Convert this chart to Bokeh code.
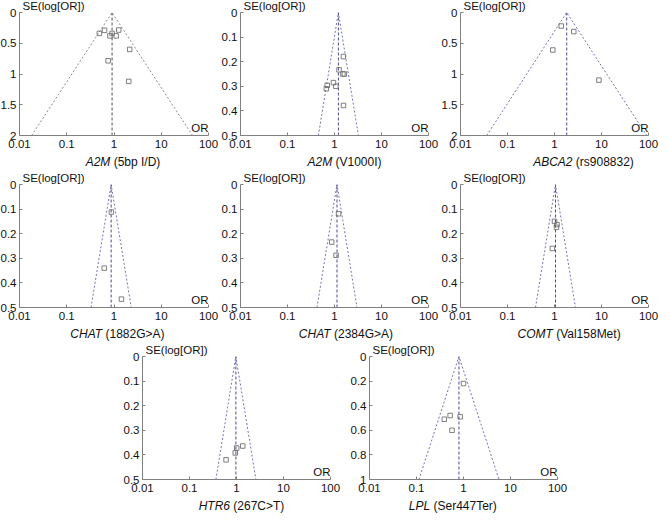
import math
from bokeh.plotting import figure
from bokeh.models import Range1d, FixedTicker, CustomJSTickFormatter, Label, Spacer
from bokeh.layouts import row, column
from bokeh.embed import file_html
from bokeh.resources import INLINE

FONT = "Liberation Sans"
FS = "11.5px"
CAP_FS = 12

# ---------------- data ----------------
x_ticks = [0.01, 0.1, 1, 10, 100]

genes = ["A2M", "A2M", "ABCA2", "CHAT", "CHAT", "COMT", "HTR6", "LPL"]
variants = ["(5bp I/D)", "(V1000I)", "(rs908832)", "(1882G>A)", "(2384G>A)",
            "(Val158Met)", "(267C>T)", "(Ser447Ter)"]
se_max = [2, 0.5, 2, 0.5, 0.5, 0.5, 0.5, 1]
y_ticks = [[0, 0.5, 1, 1.5, 2],
           [0, 0.1, 0.2, 0.3, 0.4, 0.5],
           [0, 0.5, 1, 1.5, 2],
           [0, 0.1, 0.2, 0.3, 0.4, 0.5],
           [0, 0.1, 0.2, 0.3, 0.4, 0.5],
           [0, 0.1, 0.2, 0.3, 0.4, 0.5],
           [0, 0.1, 0.2, 0.3, 0.4, 0.5],
           [0, 0.2, 0.4, 0.6, 0.8, 1]]
pooled_or = [0.91, 1.21, 1.82, 0.87, 1.13, 1.05, 0.97, 0.80]

or_a2m_5bp = [0.49, 0.63, 0.82, 0.91, 1.11, 1.26, 2.15, 0.75, 2.05]
se_a2m_5bp = [0.34, 0.29, 0.38, 0.34, 0.38, 0.285, 0.60, 0.785, 1.12]

or_a2m_v1000i = [1.55, 1.25, 1.51, 1.62, 0.95, 1.07, 0.70, 0.67, 1.55]
se_a2m_v1000i = [0.179, 0.233, 0.25, 0.25, 0.285, 0.30, 0.296, 0.31, 0.378]

or_abca2 = [1.39, 2.57, 0.92, 8.8]
se_abca2 = [0.22, 0.31, 0.61, 1.1]

or_chat_1882 = [0.88, 0.62, 1.44]
se_chat_1882 = [0.112, 0.34, 0.466]

or_chat_2384 = [1.22, 0.87, 1.08]
se_chat_2384 = [0.119, 0.234, 0.288]

or_comt = [1.0, 1.13, 1.10, 0.90]
se_comt = [0.15, 0.163, 0.174, 0.26]

or_htr6 = [1.36, 1.01, 0.94, 0.60]
se_htr6 = [0.364, 0.372, 0.392, 0.42]

or_lpl = [1.0, 0.52, 0.39, 0.85, 0.57]
se_lpl = [0.22, 0.48, 0.51, 0.49, 0.60]

study_or = [or_a2m_5bp, or_a2m_v1000i, or_abca2, or_chat_1882, or_chat_2384,
            or_comt, or_htr6, or_lpl]
study_se = [se_a2m_5bp, se_a2m_v1000i, se_abca2, se_chat_1882, se_chat_2384,
            se_comt, se_htr6, se_lpl]

# ---------------- layout / style ----------------
CAPTION_SHIFT = [9, 10, 29, 3, 11, 15, 5, -10]   # px, caption centre vs frame centre

ARIAL = {"A": 667, "B": 667, "C": 722, "D": 722, "G": 778, "H": 722, "I": 278,
         "L": 556, "M": 833, "O": 778, "P": 667, "R": 722, "S": 667, "T": 611,
         "V": 667, "a": 556, "b": 556, "e": 556, "l": 222, "p": 556, "r": 333,
         "s": 500, "t": 278, "(": 333, ")": 333, "/": 278, ">": 584, " ": 278}


def text_w(s, px=CAP_FS):
    return sum(ARIAL.get(c, 556) for c in s) * px / 1000.0


FUNNEL_COLOR = ["#8a8a96"] + ["#7373b8"] * 7
VLINE_COLOR = ["#50505a"] + ["#4a4a90"] * 7

FW = 190
BOTTOM = 18


def make_panel(i, left, right, main_h, cap_h):
    ymax = se_max[i]
    p = figure(width=left + FW + right, height=main_h,
               x_axis_type="log", x_range=Range1d(0.01, 100),
               y_range=Range1d(ymax, 0), title="SE(log[OR])",
               output_backend="svg", toolbar_location=None,
               min_border_left=left, min_border_right=right,
               min_border_top=0, min_border_bottom=BOTTOM)
    p.title.align = "left"
    p.title.offset = 3
    p.title.standoff = 1
    p.title.text_font = FONT
    p.title.text_font_size = FS
    p.title.text_font_style = "normal"
    p.title.text_color = "#111111"
    p.outline_line_color = None
    p.xgrid.visible = False
    p.ygrid.visible = False
    p.background_fill_color = "white"
    p.border_fill_color = "white"

    for ax in (p.xaxis[0], p.yaxis[0]):
        ax.axis_line_color = "#808080"
        ax.major_tick_line_color = "#808080"
        ax.major_tick_in = 3
        ax.major_tick_out = 0
        ax.minor_tick_line_color = None
        ax.major_label_text_font = FONT
        ax.major_label_text_font_size = FS
        ax.major_label_text_color = "#111111"
    p.xaxis[0].major_label_standoff = 4
    p.yaxis[0].major_label_standoff = 3
    p.xaxis[0].ticker = FixedTicker(ticks=x_ticks, minor_ticks=[])
    p.xaxis[0].formatter = CustomJSTickFormatter(code="return String(tick);")
    p.yaxis[0].ticker = FixedTicker(ticks=y_ticks[i], minor_ticks=[])
    p.yaxis[0].formatter = CustomJSTickFormatter(
        code="return String(parseFloat(tick.toFixed(3)));")

    # funnel (95% limits around the pooled estimate)
    pooled = pooled_or[i]
    lo = pooled * math.exp(-1.96 * ymax)
    hi = pooled * math.exp(1.96 * ymax)
    p.line([lo, pooled, hi], [ymax, 0, ymax], line_color=FUNNEL_COLOR[i],
           line_width=1, line_dash="2 2")
    p.line([pooled, pooled], [0, ymax], line_color=VLINE_COLOR[i],
           line_width=1, line_dash="3 2")

    p.scatter(study_or[i], study_se[i], marker="square", size=4.5,
              fill_color=None, line_color="#707070", line_width=0.9)

    p.add_layout(Label(x=100, y=ymax, x_offset=0, y_offset=2, text="OR",
                       text_align="right", text_baseline="bottom",
                       text_font=FONT, text_font_size=FS,
                       text_color="#111111"))

    # caption strip (gene name italic + variant)
    c = figure(width=left + FW + right, height=cap_h,
               x_axis_type="log", x_range=Range1d(0.01, 100),
               y_range=Range1d(0, 1), x_axis_location=None, y_axis_location=None,
               output_backend="svg", toolbar_location=None,
               min_border_left=left, min_border_right=right,
               min_border_top=0, min_border_bottom=0)
    c.outline_line_color = None
    c.xgrid.visible = False
    c.ygrid.visible = False
    g = genes[i]
    v = variants[i]
    total = text_w(g) + text_w(" ") + text_w(v)
    split = CAPTION_SHIFT[i] - total / 2 + text_w(g)
    cap_y = 1 - 8.0 / cap_h
    c.add_layout(Label(x=1, y=cap_y, x_offset=split, text=g,
                       text_align="right", text_baseline="middle",
                       text_font=FONT, text_font_size=f"{CAP_FS}px",
                       text_font_style="italic", text_color="#111111"))
    c.add_layout(Label(x=1, y=cap_y, x_offset=split + text_w(" "),
                       text=v, text_align="left", text_baseline="middle",
                       text_font=FONT, text_font_size=f"{CAP_FS}px",
                       text_color="#111111"))
    return column(p, c, spacing=0)


p1 = make_panel(0, 21, 10, 156, 16)
p2 = make_panel(1, 20, 10, 156, 16)
p3 = make_panel(2, 20, 10, 156, 16)
p4 = make_panel(3, 21, 10, 156, 16)
p5 = make_panel(4, 20, 10, 156, 16)
p6 = make_panel(5, 20, 10, 156, 16)
p7 = make_panel(6, 20, 17, 156, 16)
p8 = make_panel(7, 20, 10, 156, 16)

layout = column(row(p1, p2, p3), row(p4, p5, p6),
                row(Spacer(width=123, height=10), p7, p8),
                styles={"margin-left": "-3px", "margin-top": "-3px"})

open("out.html", "w").write(file_html(layout, INLINE))
